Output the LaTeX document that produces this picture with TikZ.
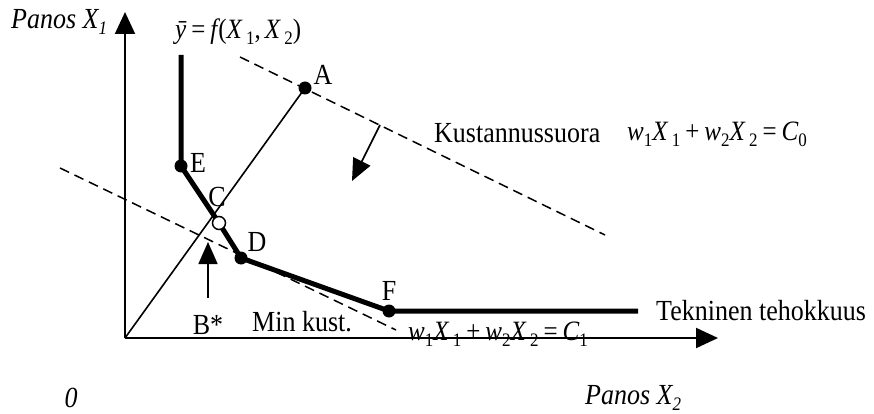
\documentclass[tikz,border=0pt]{standalone}
\usepackage{fontspec}
\setmainfont{Liberation Serif}
\usetikzlibrary{arrows.meta}
\newcommand{\sbs}[1]{\raisebox{-0.45ex}{\fontsize{17}{17}\selectfont #1}}
\newcommand{\eqsp}{\hspace{5pt}}
\newcommand{\tall}[1]{\scalebox{1}[1.12]{#1}}
\begin{document}
\begin{tikzpicture}[x=1pt,y=-1pt,
  lbl/.style={inner sep=0pt,font=\fontsize{26}{30}\selectfont},
  eqlbl/.style={inner sep=0pt,font=\fontsize{25}{30}\selectfont},
  axis/.style={line width=2pt,-{Triangle[length=22pt,width=20pt]}},
  iso/.style={line width=5pt},
  ray/.style={line width=1.6pt},
  cost/.style={line width=1.5pt,dash pattern=on 10pt off 6pt},
  arr/.style={line width=1.6pt,-{Triangle[length=22pt,width=19pt]}},
  dot/.style={circle,fill=black,inner sep=0pt,minimum size=13pt},
  odot/.style={circle,draw=black,fill=white,line width=1.5pt,inner sep=0pt,minimum size=13pt}]
\useasboundingbox (0,0) rectangle (874,414);
% axes
\coordinate (O) at (125,338);
\coordinate (Ytip) at (125,12);
\coordinate (Xtip) at (718,338);
\draw[axis] (O) -- (Ytip);
\draw[axis] (O) -- (Xtip);
% points
\coordinate (Top) at (181,55);
\coordinate (Pe) at (181,166);
\coordinate (Pc) at (219,223);
\coordinate (Pd) at (241,258);
\coordinate (Pf) at (389,311);
\coordinate (Pa) at (305,88);
\coordinate (Iend) at (638,311);
% ray
\draw[ray] (O) -- (Pa);
% cost lines
\coordinate (C0s) at (240,57);
\coordinate (C0e) at (605,235);
\coordinate (C1s) at (60,168);
\coordinate (C1e) at (396,330);
\draw[cost] (C0s) -- (C0e);
\draw[cost] (C1s) -- (C1e);
% isoquant
\draw[iso] (Top) -- (Pe) -- (Pc) -- (Pd) -- (Pf) -- (Iend);
% arrows
\coordinate (Ks) at (380,125);
\coordinate (Ke) at (352,181);
\draw[arr] (Ks) -- (Ke);
\coordinate (Bs) at (208,298);
\coordinate (Be) at (208,242);
\draw[arr] (Bs) -- (Be);
% dots
\node[dot] (E) at (Pe) {};
\node[dot] (D) at (Pd) {};
\node[dot] (F) at (Pf) {};
\node[dot] (A) at (Pa) {};
\node[odot] (C) at (Pc) {};
% labels
\node[lbl] (lA) at (323,75) {\tall{A}};
\node[lbl] (lE) at (198,163) {\tall{E}};
\node[lbl] (lC) at (217,197) {\tall{C}};
\node[lbl] (lD) at (257,242) {\tall{D}};
\node[lbl] (lF) at (389,291) {\tall{F}};
\node[lbl] (lB) at (208,325) {\tall{B*}};
\node[lbl] (lMin) at (302,322) {\tall{Min kust.}};
\node[lbl,anchor=west] (lTek) at (656,311) {\tall{Tekninen tehokkuus}};
\node[lbl,anchor=west] (lKus) at (434,133) {\tall{Kustannussuora}};
\node[eqlbl,anchor=west] (eqC0) at (627,134) {\tall{\itshape w\sbs{\upshape 1}X\,\sbs{\upshape 1}\eqsp\upshape +\eqsp\itshape w\sbs{\upshape 2}X\,\sbs{\upshape 2}\eqsp\upshape =\eqsp\itshape C\sbs{\upshape 0}}};
\node[eqlbl,anchor=west] (eqC1) at (408,334) {\tall{\itshape w\sbs{\upshape 1}X\,\sbs{\upshape 1}\eqsp\upshape +\eqsp\itshape w\sbs{\upshape 2}X\,\sbs{\upshape 2}\eqsp\upshape =\eqsp\itshape C\sbs{\upshape 1}}};
\node[eqlbl,anchor=west] (eqY) at (175,32) {\tall{\itshape \={y}\eqsp\upshape =\eqsp\itshape f\hspace{1pt}\upshape(\itshape X\,\sbs{\upshape 1}\upshape,\hspace{4pt}\itshape X\,\sbs{\upshape 2}\upshape)}};
\node[lbl,anchor=west] (lX1) at (11,22) {\tall{\itshape Panos X\sbs{1}}};
\node[lbl,anchor=west] (lX2) at (585,398) {\tall{\itshape Panos X\sbs{2}}};
\node[lbl] (l0) at (71,398) {\tall{\itshape 0}};
\end{tikzpicture}
\end{document}
